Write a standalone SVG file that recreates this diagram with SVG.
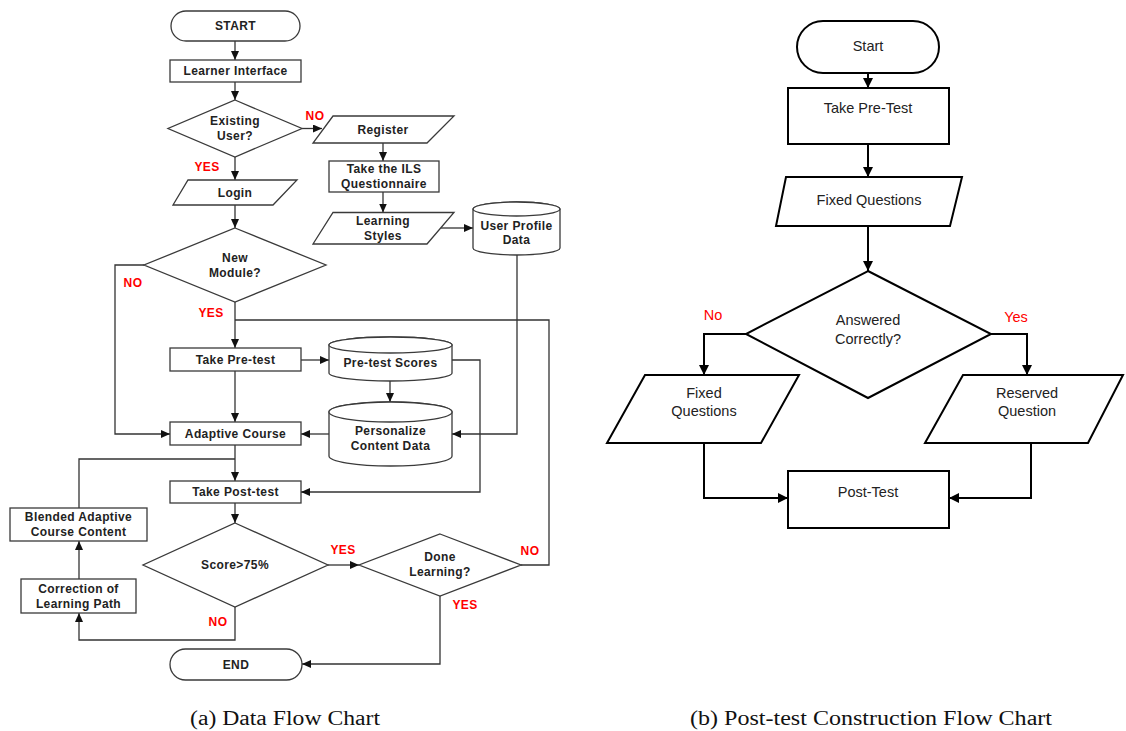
<svg xmlns="http://www.w3.org/2000/svg" width="1126" height="731" viewBox="0 0 1126 731">
<style>
.s{fill:#fff;stroke:#3a3a3a;stroke-width:1.3}
.c{fill:none;stroke:#333;stroke-width:1.3}
.t{font-family:"Liberation Sans",Arial,sans-serif;font-weight:bold;font-size:12px;letter-spacing:0.4px;fill:#222;text-anchor:middle;dominant-baseline:central}
.r{font-family:"Liberation Sans",Arial,sans-serif;font-weight:bold;font-size:12px;letter-spacing:0.4px;fill:#ff0000;text-anchor:middle;dominant-baseline:central}
.S{fill:#fff;stroke:#000;stroke-width:2}
.C{fill:none;stroke:#000;stroke-width:2}
.T{font-family:"Liberation Sans",Arial,sans-serif;font-size:14.5px;fill:#222;text-anchor:middle;dominant-baseline:central}
.R{font-family:"Liberation Sans",Arial,sans-serif;font-size:14.5px;fill:#ff0000;text-anchor:middle;dominant-baseline:central}
.cap{font-family:"Liberation Serif","Times New Roman",serif;font-size:20px;fill:#111;text-anchor:middle}
</style>
<defs>
<marker id="a" viewBox="0 0 9 8" refX="9" refY="4" markerWidth="9" markerHeight="8" markerUnits="userSpaceOnUse" orient="auto"><path d="M0,0 L9,4 L0,8 z" fill="#111"/></marker>
<marker id="b" viewBox="0 0 10 10" refX="10" refY="5" markerWidth="10" markerHeight="10" markerUnits="userSpaceOnUse" orient="auto"><path d="M0,0 L10,5 L0,10 z" fill="#000"/></marker>
</defs>
<rect width="1126" height="731" fill="#fff"/>

<g id="connectors-left">
<path class="c" d="M235,41 V60" marker-end="url(#a)"/>
<path class="c" d="M235,82 V100" marker-end="url(#a)"/>
<path class="c" d="M235,157 V180" marker-end="url(#a)"/>
<path class="c" d="M302,128.5 H322" marker-end="url(#a)"/>
<path class="c" d="M383,143 V161" marker-end="url(#a)"/>
<path class="c" d="M383,192 V212.5" marker-end="url(#a)"/>
<path class="c" d="M441,228 H473" marker-end="url(#a)"/>
<path class="c" d="M235,205 V228" marker-end="url(#a)"/>
<path class="c" d="M144,265 H115 V434 H170" marker-end="url(#a)"/>
<path class="c" d="M235,302 V348" marker-end="url(#a)"/>
<path class="c" d="M521,565 H549 V320 H235"/>
<path class="c" d="M301,360 H329" marker-end="url(#a)"/>
<path class="c" d="M390,381 V402" marker-end="url(#a)"/>
<path class="c" d="M452,360 H480 V492 H301" marker-end="url(#a)"/>
<path class="c" d="M235,371 V422" marker-end="url(#a)"/>
<path class="c" d="M329,434 H301" marker-end="url(#a)"/>
<path class="c" d="M517,255 V434 H452" marker-end="url(#a)"/>
<path class="c" d="M235,445 V481" marker-end="url(#a)"/>
<path class="c" d="M79,508 V459 H235"/>
<path class="c" d="M235,503 V523" marker-end="url(#a)"/>
<path class="c" d="M328,565 H359" marker-end="url(#a)"/>
<path class="c" d="M440,596 V664 H302" marker-end="url(#a)"/>
<path class="c" d="M235,607 V640 H79 V613" marker-end="url(#a)"/>
<path class="c" d="M79,579 V541" marker-end="url(#a)"/>
<text class="r" x="315" y="116">NO</text>
<text class="r" x="207" y="167">YES</text>
<text class="r" x="133" y="283">NO</text>
<text class="r" x="211" y="313">YES</text>
<text class="r" x="343" y="550">YES</text>
<text class="r" x="530" y="551">NO</text>
<text class="r" x="465" y="605">YES</text>
<text class="r" x="218" y="622">NO</text>
</g>

<g id="start"><rect class="s" x="171" y="11" width="129" height="30" rx="15"/><text class="t" x="235.5" y="26">START</text></g>
<g id="learner-interface"><rect class="s" x="170" y="60" width="131" height="22"/><text class="t" x="235.5" y="71">Learner Interface</text></g>
<g id="existing-user"><polygon class="s" points="235,100 302,128.5 235,157 168,128.5"/><text class="t" x="235" y="121">Existing</text><text class="t" x="235" y="136">User?</text></g>
<g id="register"><polygon class="s" points="333,116 454,116 427,143 313,143"/><text class="t" x="383" y="130">Register</text></g>
<g id="ils"><rect class="s" x="329" y="161" width="110" height="31"/><text class="t" x="384" y="169">Take the ILS</text><text class="t" x="384" y="183.5">Questionnaire</text></g>
<g id="learning-styles"><polygon class="s" points="333,212.5 454,212.5 427,244 313,244"/><text class="t" x="383" y="221">Learning</text><text class="t" x="383" y="236">Styles</text></g>
<g id="user-profile"><path class="s" d="M473,209 V248 A43.5,7 0 0 0 560,248 V209 A43.5,7 0 0 0 473,209 Z"/><ellipse class="s" cx="516.5" cy="209" rx="43.5" ry="7"/><text class="t" x="516.5" y="226">User Profile</text><text class="t" x="516.5" y="240">Data</text></g>
<g id="login"><polygon class="s" points="188,180 297,180 273,205 173,205"/><text class="t" x="235" y="193">Login</text></g>
<g id="new-module"><polygon class="s" points="235,228 326,265 235,302 144,265"/><text class="t" x="235" y="258">New</text><text class="t" x="235" y="273">Module?</text></g>
<g id="take-pretest"><rect class="s" x="170" y="348" width="131" height="23"/><text class="t" x="235.5" y="359.5">Take Pre-test</text></g>
<g id="pretest-scores"><path class="s" d="M329,345 V373 A61.5,8 0 0 0 452,373 V345 A61.5,8 0 0 0 329,345 Z"/><ellipse class="s" cx="390.5" cy="345" rx="61.5" ry="8"/><text class="t" x="390.5" y="363">Pre-test Scores</text></g>
<g id="personalize"><path class="s" d="M329,412 V456 A61.5,10 0 0 0 452,456 V412 A61.5,10 0 0 0 329,412 Z"/><ellipse class="s" cx="390.5" cy="412" rx="61.5" ry="10"/><text class="t" x="390.5" y="431">Personalize</text><text class="t" x="390.5" y="446">Content Data</text></g>
<g id="adaptive-course"><rect class="s" x="170" y="422" width="131" height="23"/><text class="t" x="235.5" y="433.5">Adaptive Course</text></g>
<g id="take-posttest"><rect class="s" x="170" y="481" width="131" height="22"/><text class="t" x="235.5" y="492">Take Post-test</text></g>
<g id="blended"><rect class="s" x="10" y="508" width="137" height="33"/><text class="t" x="78.5" y="517">Blended Adaptive</text><text class="t" x="78.5" y="532">Course Content</text></g>
<g id="correction"><rect class="s" x="21" y="579" width="115" height="34"/><text class="t" x="78.5" y="589">Correction of</text><text class="t" x="78.5" y="604">Learning Path</text></g>
<g id="score"><polygon class="s" points="235,523 328,565 235,607 143,565"/><text class="t" x="235" y="565">Score&gt;75%</text></g>
<g id="done-learning"><polygon class="s" points="440,534 521,565 440,596 359,565"/><text class="t" x="440" y="557">Done</text><text class="t" x="440" y="572">Learning?</text></g>
<g id="end"><rect class="s" x="170" y="649" width="132" height="31" rx="15.5"/><text class="t" x="236" y="664.5">END</text></g>

<g id="connectors-right">
<path class="C" d="M868,73 V88" marker-end="url(#b)"/>
<path class="C" d="M868,144 V177" marker-end="url(#b)"/>
<path class="C" d="M868,226 V271" marker-end="url(#b)"/>
<path class="C" d="M746,334 H704 V375" marker-end="url(#b)"/>
<path class="C" d="M991,334 H1027 V375" marker-end="url(#b)"/>
<path class="C" d="M704,443 V498 H788" marker-end="url(#b)"/>
<path class="C" d="M1031,443 V498 H949" marker-end="url(#b)"/>
<text class="R" x="713" y="315">No</text>
<text class="R" x="1016" y="317">Yes</text>
</g>
<g id="r-start"><rect class="S" x="797" y="21" width="142" height="52" rx="26"/><text class="T" x="868" y="46">Start</text></g>
<g id="r-pretest"><rect class="S" x="788" y="88" width="161" height="56"/><text class="T" x="868" y="108">Take Pre-Test</text></g>
<g id="r-fixed"><polygon class="S" points="786,177 962,177 950,226 776,226"/><text class="T" x="869" y="200">Fixed Questions</text></g>
<g id="r-answered"><polygon class="S" points="868,271 991,334 868,398 746,334"/><text class="T" x="868" y="320">Answered</text><text class="T" x="868" y="339">Correctly?</text></g>
<g id="r-fixed2"><polygon class="S" points="645,375 799,375 761,443 607,443"/><text class="T" x="704" y="393">Fixed</text><text class="T" x="704" y="411">Questions</text></g>
<g id="r-reserved"><polygon class="S" points="963,375 1123,375 1088,443 925,443"/><text class="T" x="1027" y="393">Reserved</text><text class="T" x="1027" y="411">Question</text></g>
<g id="r-posttest"><rect class="S" x="788" y="471" width="161" height="57"/><text class="T" x="868" y="492">Post-Test</text></g>

<text class="cap" x="285" y="725" textLength="190" lengthAdjust="spacingAndGlyphs">(a) Data Flow Chart</text>
<text class="cap" x="871" y="725" textLength="362" lengthAdjust="spacingAndGlyphs">(b) Post-test Construction Flow Chart</text>
</svg>
